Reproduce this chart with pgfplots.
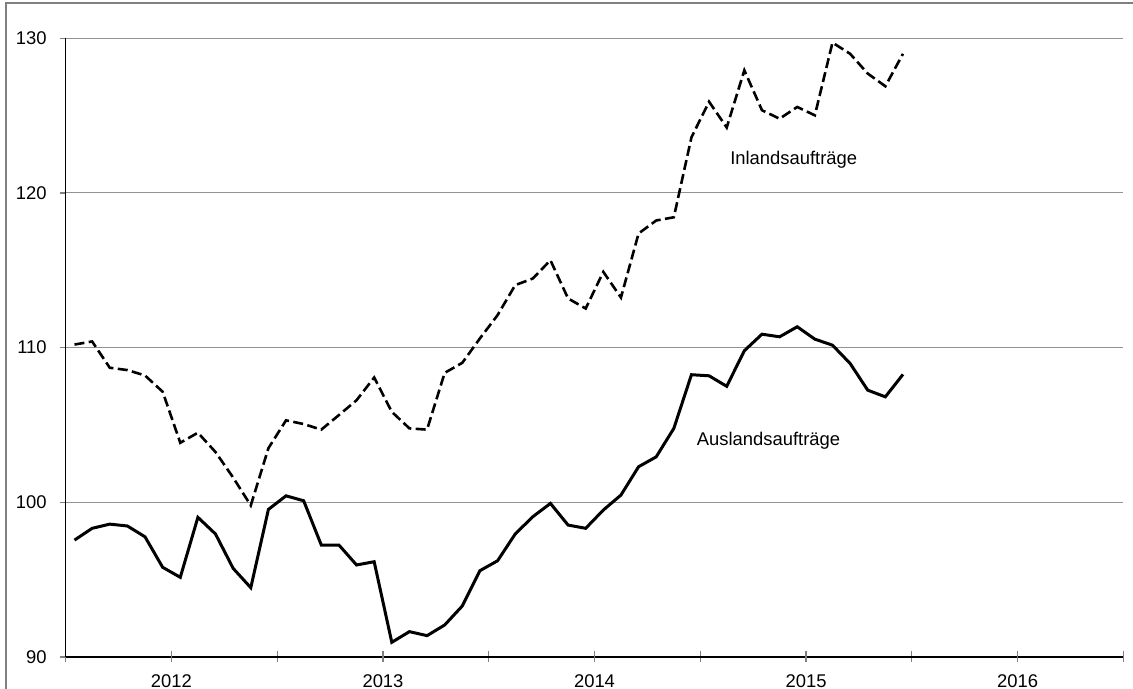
\documentclass[border=0pt]{standalone}
\usepackage{fontspec}
\setmainfont{Liberation Sans}
\usepackage{pgfplots}
\usepackage{pgfplotstable}
\pgfplotsset{compat=1.18}
\pgfplotstableread{
x inland ausland
0.5 110.2 97.56
1.5 110.4 98.32
2.5 108.7 98.59
3.5 108.55 98.47
4.5 108.2 97.77
5.5 107.15 95.8
6.5 103.85 95.15
7.5 104.5 99.03
8.5 103.25 97.95
9.5 101.6 95.73
10.5 99.8 94.48
11.5 103.5 99.54
12.5 105.3 100.42
13.5 105.06 100.1
14.5 104.7 97.24
15.5 105.64 97.24
16.5 106.6 95.95
17.5 108.07 96.16
18.5 105.85 90.95
19.5 104.78 91.64
20.5 104.7 91.38
21.5 108.37 92.07
22.5 109.02 93.3
23.5 110.6 95.58
24.5 112.1 96.22
25.5 114.04 97.95
26.5 114.47 99.07
27.5 115.65 99.93
28.5 113.18 98.53
29.5 112.53 98.32
30.5 114.9 99.5
31.5 113.24 100.47
32.5 117.38 102.3
33.5 118.22 102.94
34.5 118.43 104.78
35.5 123.6 108.25
36.5 125.9 108.18
37.5 124.23 107.5
38.5 127.93 109.8
39.5 125.35 110.87
40.5 124.8 110.7
41.5 125.56 111.35
42.5 125.02 110.55
43.5 129.72 110.16
44.5 129.0 108.98
45.5 127.72 107.25
46.5 126.9 106.82
47.5 129.0 108.27
}\datatable
\begin{document}
\fontsize{9.2pt}{11pt}\selectfont
\begin{tikzpicture}
\useasboundingbox (0,0) rectangle (566.5pt,344.5pt);
\draw[black!50, line width=0.8pt] (2.85pt,0) -- (2.85pt,343pt) -- (570pt,343pt);
\begin{axis}[
  at={(32.85pt,16pt)}, anchor=south west,
  scale only axis, width=528.8pt, height=309.35pt,
  xmin=0, xmax=60, ymin=90, ymax=130,
  axis x line=bottom, axis y line=left,
  axis line style={-, line width=0.6pt, black},
  xtick={0,12,...,60}, xticklabels={},
  extra x ticks={6,18,30,42,54},
  extra x tick labels={2012,2013,2014,2015,2016},
  extra x tick style={major tick length=0pt, grid=none},
  xtick align=center, ytick align=outside,
  xtick style={gray, line width=0.6pt, /pgfplots/major tick length=5.5pt},
  ytick style={gray, line width=0.6pt, /pgfplots/major tick length=3pt},
  ytick={90,100,...,130},
  ymajorgrids, grid style={gray!85, line width=0.5pt},
  /pgf/number format/assume math mode=true,
  tick label style={font=\fontsize{9.2pt}{11pt}\selectfont},
  yticklabel style={xshift=-2pt},
  xticklabel style={yshift=-5.5pt},
  clip=false,
]
\addplot[black, line width=1.5pt, line join=miter] table[x=x, y=ausland] {\datatable};
\addplot[black, line width=1.3pt, dash pattern=on 5pt off 2.2pt] table[x=x, y=inland] {\datatable};
\node at (axis cs:41.3,122.13) {Inlandsaufträge};
\node at (axis cs:39.87,103.98) {Auslandsaufträge};
\end{axis}
\end{tikzpicture}
\end{document}
